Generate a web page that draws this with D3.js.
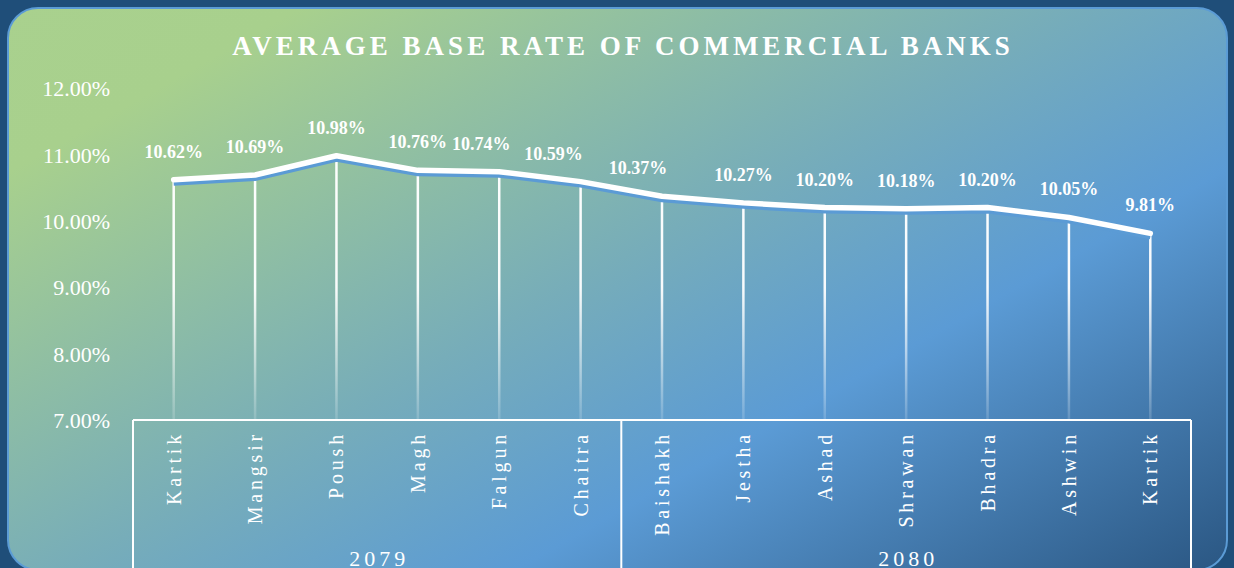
<!DOCTYPE html>
<html>
<head>
<meta charset="utf-8">
<script src="https://cdn.jsdelivr.net/npm/d3@7"></script>
<style>
  html, body { margin: 0; padding: 0; background: #1f4e79; overflow: hidden; }
  text { font-family: "Liberation Serif", "Times New Roman", serif; fill: #fff; }
</style>
</head>
<body>
<div id="chart"></div>
<script>
const width = 1234
const height = 568

// data
const months = ['Kartik', 'Mangsir', 'Poush', 'Magh', 'Falgun', 'Chaitra', 'Baishakh', 'Jestha', 'Ashad', 'Shrawan', 'Bhadra', 'Ashwin', 'Kartik']
const years = ['2079', '2080']
const yearOf = ['2079', '2079', '2079', '2079', '2079', '2079', '2080', '2080', '2080', '2080', '2080', '2080', '2080']
const baseRate = [10.62, 10.69, 10.98, 10.76, 10.74, 10.59, 10.37, 10.27, 10.20, 10.18, 10.20, 10.05, 9.81]
const yTicks = [7, 8, 9, 10, 11, 12]

const plot = { left: 133, right: 1191, top: 88, bottom: 420 }
// small sideways nudges so labels don't collide (by index)
const labelNudge = { 4: -18, 5: -27, 6: -24 }

const svg = d3.select('#chart').append('svg')
  .attr('width', width)
  .attr('height', height)

const defs = svg.append('defs')

const bg = defs.append('linearGradient')
  .attr('id', 'bg')
  .attr('gradientUnits', 'userSpaceOnUse')
  .attr('x1', 0).attr('y1', 0)
  .attr('x2', 540).attr('y2', 960)
bg.append('stop').attr('offset', 0).attr('stop-color', '#a9d18e')
bg.append('stop').attr('offset', 0.14).attr('stop-color', '#a8d08d')
bg.append('stop').attr('offset', 0.48).attr('stop-color', '#77adb9')
bg.append('stop').attr('offset', 0.68).attr('stop-color', '#5b9bd5')
bg.append('stop').attr('offset', 1).attr('stop-color', '#2a5682')

const drop = defs.append('linearGradient')
  .attr('id', 'drop')
  .attr('gradientUnits', 'userSpaceOnUse')
  .attr('x1', 0).attr('y1', plot.top)
  .attr('x2', 0).attr('y2', plot.bottom)
drop.append('stop').attr('offset', 0).attr('stop-color', '#fff').attr('stop-opacity', 1)
drop.append('stop').attr('offset', 0.6).attr('stop-color', '#fff').attr('stop-opacity', 0.95)
drop.append('stop').attr('offset', 1).attr('stop-color', '#fff').attr('stop-opacity', 0.15)

// card
svg.append('rect')
  .attr('x', 8).attr('y', 8)
  .attr('width', 1219).attr('height', 562)
  .attr('rx', 30)
  .attr('fill', 'url(#bg)')
  .attr('stroke', '#5b9bd5')
  .attr('stroke-width', 2)

// title
svg.append('text')
  .attr('x', 623).attr('y', 55)
  .attr('text-anchor', 'middle')
  .style('font-size', '27px')
  .style('font-weight', 'bold')
  .style('letter-spacing', '4px')
  .text('AVERAGE BASE RATE OF COMMERCIAL BANKS')

// scales
const x = d3.scaleBand().domain(d3.range(months.length)).range([plot.left, plot.right])
const y = d3.scaleLinear().domain([7, 12]).range([plot.bottom, plot.top])

// y axis
const yAxis = svg.append('g')
  .attr('transform', 'translate(110,0)')
  .call(d3.axisLeft(y).tickValues(yTicks).tickSize(0).tickPadding(0).tickFormat(d => d3.format('.2f')(d) + '%'))
yAxis.select('.domain').remove()
yAxis.selectAll('text')
  .attr('dy', '0.35em')
  .style('font-size', '22px')
  .style('font-family', '"Liberation Serif", serif')
  .attr('fill', '#fff')

// drop lines
svg.append('g').selectAll('line').data(baseRate).join('line')
  .attr('x1', (d, i) => x(i) + x.bandwidth() / 2)
  .attr('x2', (d, i) => x(i) + x.bandwidth() / 2 + 0.01)
  .attr('y1', d => y(d))
  .attr('y2', plot.bottom)
  .attr('stroke', 'url(#drop)')
  .attr('stroke-width', 2.5)

// line with shadow
const line = d3.line()
  .x((d, i) => x(i) + x.bandwidth() / 2)
  .y(d => y(d))

svg.append('path')
  .datum(baseRate)
  .attr('d', line)
  .attr('transform', 'translate(0,3.5)')
  .attr('fill', 'none')
  .attr('stroke', '#5b9bd5')
  .attr('stroke-width', 5)
  .attr('stroke-linejoin', 'round')

svg.append('path')
  .datum(baseRate)
  .attr('d', line)
  .attr('fill', 'none')
  .attr('stroke', '#fff')
  .attr('stroke-width', 5.5)
  .attr('stroke-linejoin', 'round')
  .attr('stroke-linecap', 'round')

// data labels
svg.append('g').selectAll('text').data(baseRate).join('text')
  .attr('x', (d, i) => x(i) + x.bandwidth() / 2 + (labelNudge[i] || 0))
  .attr('y', d => y(d) - 22)
  .attr('text-anchor', 'middle')
  .style('font-size', '18px')
  .style('font-weight', 'bold')
  .text(d => d3.format('.2f')(d) + '%')

// category axis box
const axisG = svg.append('g')
axisG.append('line')
  .attr('x1', plot.left).attr('x2', plot.right)
  .attr('y1', plot.bottom).attr('y2', plot.bottom)
  .attr('stroke', '#fff').attr('stroke-width', 2)

const groupEdges = [0, yearOf.lastIndexOf(years[0]) + 1, months.length]
const edgeX = (d) => d === months.length ? plot.right : x(d)
axisG.selectAll('.sep').data(groupEdges).join('line')
  .attr('class', 'sep')
  .attr('x1', edgeX)
  .attr('x2', edgeX)
  .attr('y1', plot.bottom).attr('y2', height)
  .attr('stroke', '#fff').attr('stroke-width', 2)

// month labels
axisG.selectAll('.month').data(months).join('text')
  .attr('class', 'month')
  .attr('transform', (d, i) => `translate(${x(i) + x.bandwidth() / 2 + 7},431) rotate(-90)`)
  .attr('text-anchor', 'end')
  .style('font-size', '20px')
  .style('letter-spacing', '3.8px')
  .text(d => d)

// year labels
axisG.selectAll('.year').data(years).join('text')
  .attr('class', 'year')
  .attr('x', (d, i) => (edgeX(groupEdges[i]) + edgeX(groupEdges[i + 1])) / 2 + 2)
  .attr('y', 566)
  .attr('text-anchor', 'middle')
  .style('font-size', '22px')
  .style('letter-spacing', '4px')
  .text(d => d)
</script>
</body>
</html>
